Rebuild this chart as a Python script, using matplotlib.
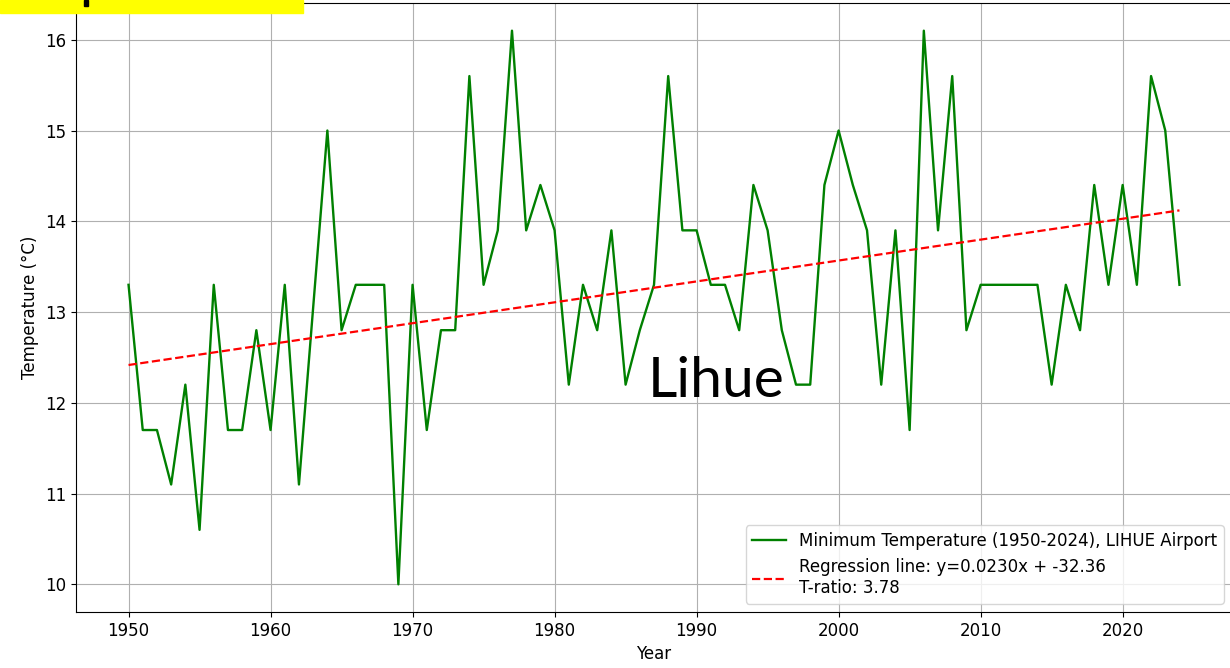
import numpy as np
import matplotlib
matplotlib.use("Agg")
import matplotlib.pyplot as plt
from matplotlib.patches import Rectangle

# yearly minimum temperature at Lihue airport (deg C), 1963 missing
years = [1950, 1951, 1952, 1953, 1954, 1955, 1956, 1957, 1958, 1959,
         1960, 1961, 1962, 1964, 1965, 1966, 1967, 1968, 1969,
         1970, 1971, 1972, 1973, 1974, 1975, 1976, 1977, 1978, 1979,
         1980, 1981, 1982, 1983, 1984, 1985, 1986, 1987, 1988, 1989,
         1990, 1991, 1992, 1993, 1994, 1995, 1996, 1997, 1998, 1999,
         2000, 2001, 2002, 2003, 2004, 2005, 2006, 2007, 2008, 2009,
         2010, 2011, 2012, 2013, 2014, 2015, 2016, 2017, 2018, 2019,
         2020, 2021, 2022, 2023, 2024]
tmin = [13.3, 11.7, 11.7, 11.1, 12.2, 10.6, 13.3, 11.7, 11.7, 12.8,
        11.7, 13.3, 11.1, 15.0, 12.8, 13.3, 13.3, 13.3, 10.0,
        13.3, 11.7, 12.8, 12.8, 15.6, 13.3, 13.9, 16.1, 13.9, 14.4,
        13.9, 12.2, 13.3, 12.8, 13.9, 12.2, 12.8, 13.3, 15.6, 13.9,
        13.9, 13.3, 13.3, 12.8, 14.4, 13.9, 12.8, 12.2, 12.2, 14.4,
        15.0, 14.4, 13.9, 12.2, 13.9, 11.7, 16.1, 13.9, 15.6, 12.8,
        13.3, 13.3, 13.3, 13.3, 13.3, 12.2, 13.3, 12.8, 14.4, 13.3,
        14.4, 13.3, 15.6, 15.0, 13.3]

# values as printed in the legend of the original
slope_txt = "0.0230"
intercept_txt = "-32.36"
t_ratio_txt = "3.78"

x = np.array(years, dtype=float)
y = np.array(tmin)
slope, intercept = np.polyfit(x, y, 1)

W, H = 1230, 668
fig = plt.figure(figsize=(W / 100, H / 100), dpi=100)
ax = fig.add_axes([76 / W, (H - 612) / H, 1156 / W, 609 / H])

ax.plot(x, y, color="green", lw=1.7,
        label="Minimum Temperature (1950-2024), LIHUE Airport")
ax.plot(x, slope * x + intercept, "r--", lw=1.6,
        label="Regression line: y={}x + {}\nT-ratio: {}".format(slope_txt, intercept_txt, t_ratio_txt))

ax.set_xlabel("Year", fontsize=12)
ax.set_ylabel("Temperature (°C)", fontsize=12)
ax.tick_params(labelsize=12)
ax.grid(True)
ax.legend(loc="lower right", fontsize=12)

fig.text(648 / W, (H - 397) / H, "Lihue", fontsize=41, family="Lato",
         va="baseline", ha="left")

# yellow banner cut off at the top edge
fig.patches.append(Rectangle((0, 1 - 12.7 / H), 303 / W, 12.7 / H,
                             transform=fig.transFigure, color="#ffff00", zorder=5))
fig.patches.append(Rectangle((84 / W, 1 - 6 / H), 4 / W, 6 / H,
                             transform=fig.transFigure, color="black", zorder=6))

fig.savefig("out.png", dpi=100)
